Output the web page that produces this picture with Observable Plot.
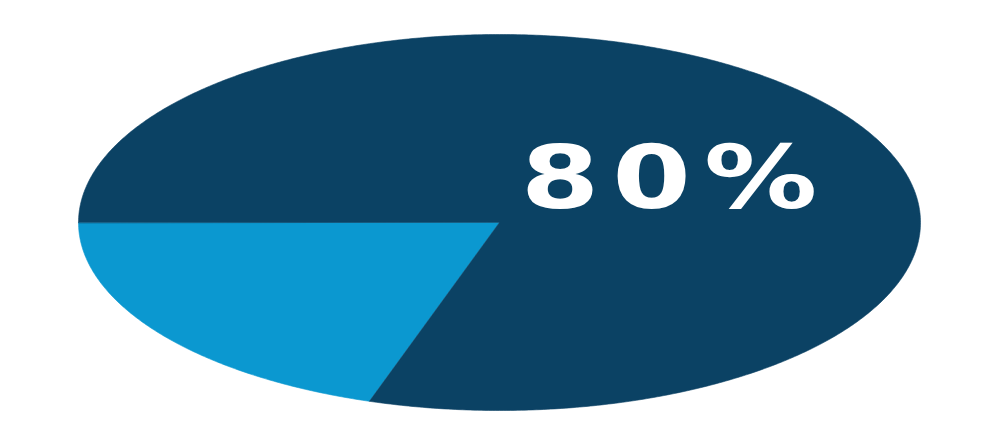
<!DOCTYPE html>
<html>
<head>
<meta charset="utf-8">
<script src="https://cdn.jsdelivr.net/npm/d3@7"></script>
<script src="https://cdn.jsdelivr.net/npm/@observablehq/plot@0.6"></script>
<style>
  html, body { margin: 0; padding: 0; background: #ffffff; }
  #chart { width: 999px; height: 444px; }
</style>
</head>
<body>
<div id="chart"></div>
<script>
// Data
const categories = ["Yes", "No"];
const shares = [80, 20];
const colors = ["#0b4264", "#0b98d0"];
const label = "80%";

// Slice polygons in unit-circle coordinates (the x/y scales stretch the circle into the ellipse).
// The small slice starts at the left (180°) and runs downward; the big slice takes the rest.
const total = d3.sum(shares);
const startDeg = 180;
const rows = [];
let a0 = startDeg;
[1, 0].forEach(i => {
  const sweep = shares[i] / total * 360;
  const a1 = a0 - sweep;
  rows.push({cat: categories[i], x: 0, y: 0});
  const n = Math.max(2, Math.ceil(sweep * 2));
  for (let k = 0; k <= n; k++) {
    const a = (a0 + (a1 - a0) * k / n) * Math.PI / 180;
    rows.push({cat: categories[i], x: Math.cos(a), y: Math.sin(a)});
  }
  a0 = a1;
});

const chart = Plot.plot({
  width: 999,
  height: 444,
  marginLeft: 78,
  marginRight: 79,
  marginTop: 34,
  marginBottom: 34,
  x: {domain: [-1, 1], axis: null},
  y: {domain: [-1, 1], reverse: true, axis: null},
  color: {domain: categories, range: colors},
  marks: [
    Plot.line(rows, {x: "x", y: "y", z: "cat", fill: "cat", stroke: "cat", strokeWidth: 0.6, curve: "linear-closed"}),
    Plot.text([label], {
      text: d => d,
      frameAnchor: "middle",
      dx: 176,
      dy: -42,
      fill: "white",
      fontSize: 87,
      fontWeight: "bold",
      fontFamily: "DejaVu Sans"
    })
  ]
});
d3.select(chart).selectAll("text")
  .style("letter-spacing", "10px")
  .attr("transform", function() { return (this.getAttribute("transform") || "") + " scale(1.3,1)"; });
document.getElementById("chart").appendChild(chart);
</script>
</body>
</html>
